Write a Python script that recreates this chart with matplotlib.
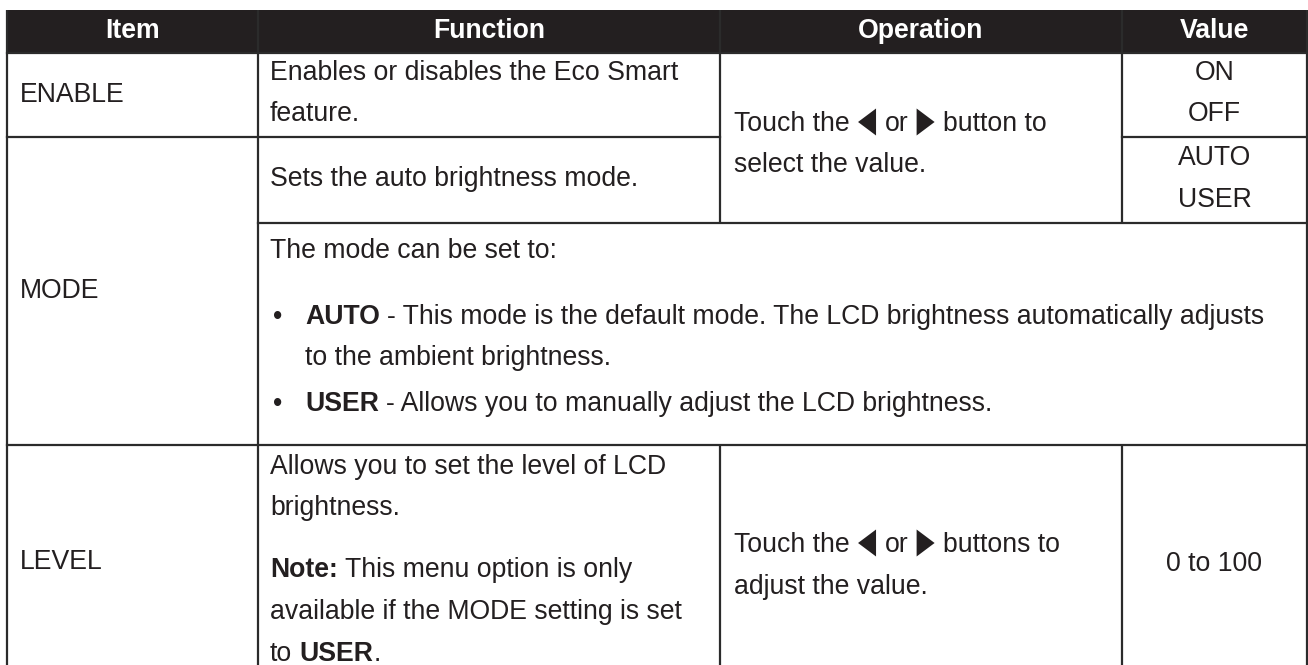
import matplotlib
matplotlib.use("Agg")
import matplotlib.pyplot as plt
from matplotlib.patches import Rectangle, Polygon

# ---- table content ----
headers = ["Item", "Function", "Operation", "Value"]
items = ["ENABLE", "MODE", "LEVEL"]
enable_func = ["Enables or disables the Eco Smart", "feature."]
mode_func = "Sets the auto brightness mode."
mode_intro = "The mode can be set to:"
auto_text = [" - This mode is the default mode. The LCD brightness automatically adjusts",
             "to the ambient brightness."]
user_text = " - Allows you to manually adjust the LCD brightness."
level_func = ["Allows you to set the level of LCD", "brightness."]
level_note = [" This menu option is only", "available if the MODE setting is set", "to "]
op_select = ["Touch the ", " or ", " button to", "select the value."]
op_adjust = ["Touch the ", " or ", " buttons to", "adjust the value."]
enable_values = ["ON", "OFF"]
mode_values = ["AUTO", "USER"]
level_value = "0 to 100"

# ---- layout (pixels) ----
W, H = 1308, 665
col_x = [7, 258, 720, 1122, 1307]
head_top, head_bot = 10, 53
row_y = [53, 137, 223, 445, 690]
FS = 19.2
TXT = "#231f20"
LINE = "#2b2b2b"
LW = 1.6
SP = 0.278 * FS * 100 / 72
FAM = ["Liberation Sans", "DejaVu Sans"]

fig = plt.figure(figsize=(W / 100, H / 100), dpi=100)
ax = fig.add_axes([0, 0, 1, 1])
ax.set_xlim(0, W)
ax.set_ylim(H, 0)
ax.axis("off")
rend = fig.canvas.get_renderer()


def put(x, y, s, bold=False, ha="left", color=TXT):
    return ax.text(x, y, s, fontsize=FS, family=FAM, color=color, va="center", ha=ha,
                   fontweight="bold" if bold else "normal")


def tri(x, y, left):
    w, h = 18, 27
    if left:
        pts = [(x + w, y - h / 2), (x + w, y + h / 2), (x, y)]
    else:
        pts = [(x, y - h / 2), (x, y + h / 2), (x + w, y)]
    ax.add_patch(Polygon(pts, closed=True, color=TXT, lw=0))
    return w


def runs(x, y, parts):
    # parts: list of (text, bold) or ("<"/">", None) for the arrow buttons
    for s, bold in parts:
        if s in ("<", ">"):
            x += tri(x + 1, y - 2, s == "<") + 2
            continue
        lead = len(s) - len(s.lstrip(" "))
        trail = len(s) - len(s.rstrip(" "))
        x += lead * SP
        core = s.strip(" ")
        if core:
            t = put(x, y, core, bold)
            x += t.get_window_extent(rend).width
        x += trail * SP
    return x


# ---- grid ----
ax.add_patch(Rectangle((col_x[0], head_top), col_x[-1] - col_x[0], head_bot - head_top,
                       color="#231f20", lw=0))
for i, h in enumerate(headers):
    put((col_x[i] + col_x[i + 1]) / 2, 31, h, bold=True, ha="center", color="white")

kw = dict(color=LINE, lw=LW, solid_capstyle="butt")
for x in (col_x[0], col_x[1], col_x[4]):
    ax.plot([x, x], [head_top, row_y[-1]], **kw)
for x in (col_x[2], col_x[3]):
    ax.plot([x, x], [head_top, row_y[2]], **kw)
    ax.plot([x, x], [row_y[3], row_y[-1]], **kw)
kw["solid_capstyle"] = "projecting"
ax.plot([col_x[0], col_x[4]], [head_bot, head_bot], **kw)
ax.plot([col_x[0], col_x[2]], [row_y[1], row_y[1]], **kw)
ax.plot([col_x[3], col_x[4]], [row_y[1], row_y[1]], **kw)
ax.plot([col_x[1], col_x[4]], [row_y[2], row_y[2]], **kw)
ax.plot([col_x[0], col_x[4]], [row_y[3], row_y[3]], **kw)

# ---- Item column ----
put(20, 95, items[0])
put(20, 291, items[1])
put(20, 562, items[2])

# ---- Function column ----
fx = 270
put(fx, 73, enable_func[0])
put(fx, 114, enable_func[1])
put(fx, 179, mode_func)
put(fx, 251, mode_intro)
put(273, 317, "\u2022")
runs(305, 317, [("AUTO", True), (auto_text[0], False)])
put(305, 358, auto_text[1])
put(273, 404, "\u2022")
runs(305, 404, [("USER", True), (user_text, False)])
put(fx, 467, level_func[0])
put(fx, 508, level_func[1])
runs(fx, 570, [("Note:", True), (level_note[0], False)])
put(fx, 612, level_note[1])
runs(fx, 654, [(level_note[2], False), ("USER", True), (".", False)])

# ---- Operation column ----
ox = 734
runs(ox, 124, [(op_select[0], False), ("<", None), (op_select[1], False), (">", None),
               (op_select[2], False)])
put(ox, 165, op_select[3])
runs(ox, 545, [(op_adjust[0], False), ("<", None), (op_adjust[1], False), (">", None),
               (op_adjust[2], False)])
put(ox, 587, op_adjust[3])

# ---- Value column ----
vx = (col_x[3] + col_x[4]) / 2
put(vx, 73, enable_values[0], ha="center")
put(vx, 114, enable_values[1], ha="center")
put(vx, 158, mode_values[0], ha="center")
put(vx, 200, mode_values[1], ha="center")
put(vx, 564, level_value, ha="center")

fig.savefig("out.png", dpi=100)
